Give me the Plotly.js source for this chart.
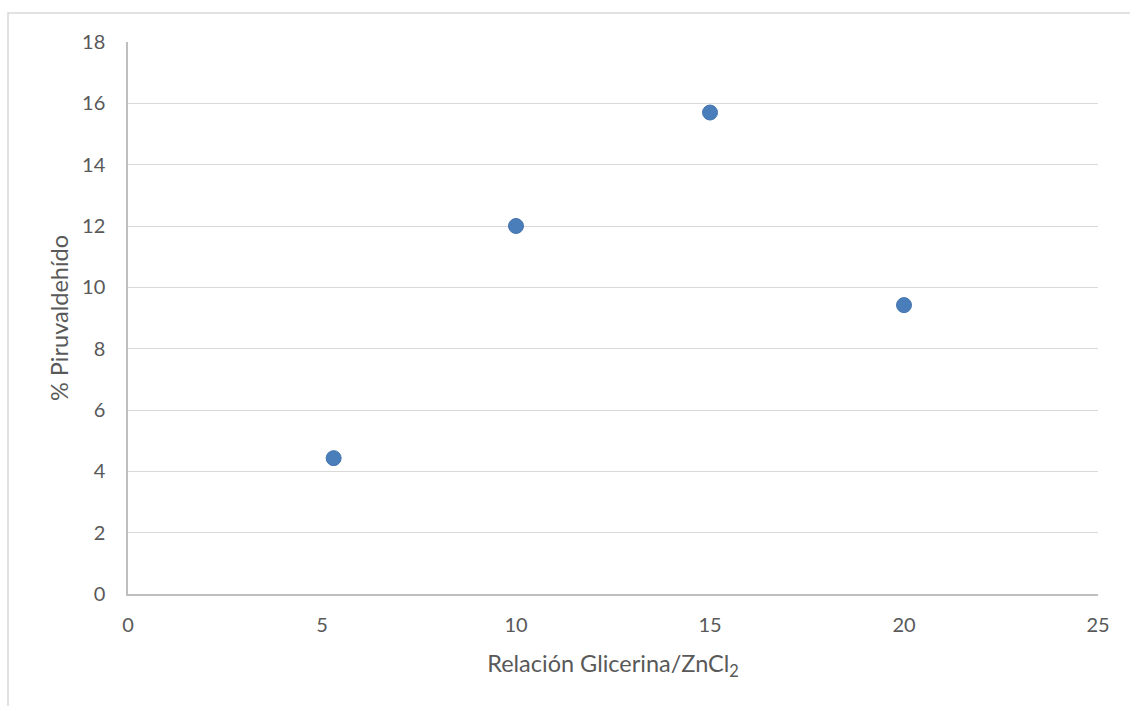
<!DOCTYPE html>
<html>
<head>
<meta charset="utf-8">
<script src="https://cdn.plot.ly/plotly-3.0.1.min.js"></script>
<style>html,body{margin:0;padding:0;background:#fff;}#chart{width:1130px;height:706px;}</style>
</head>
<body>
<div id="chart"></div>
<script>
const ratio = [5.3, 10, 15, 20];
const piruvaldehido = [4.43, 12.0, 15.7, 9.42];
const xTitle = "Relación Glicerina/ZnCl<sub>2</sub>";
const yTitle = "% Piruvaldehído";

const FONT = "Lato, 'Open Sans', sans-serif";
const L = 128, R = 32, T = 42, B = 112, W = 1130, H = 706;
const pw = W - L - R, ph = H - T - B;

Plotly.newPlot("chart", [{
  x: ratio, y: piruvaldehido, type: "scatter", mode: "markers",
  marker: {color: "#4a7ebb", size: 15, line: {color: "#4574b0", width: 1}},
  hoverinfo: "x+y"
}], {
  width: W, height: H,
  margin: {l: L, r: R, t: T, b: B, pad: 0},
  paper_bgcolor: "#fff", plot_bgcolor: "#fff",
  font: {family: FONT, size: 20, color: "#595959"},
  showlegend: false,
  xaxis: {
    range: [0, 25], dtick: 5, tick0: 0, showgrid: false, zeroline: false,
    showline: true, linecolor: "#bfbfbf", linewidth: 1.5,
    ticks: "", ticklabelstandoff: 12,
    tickfont: {family: FONT, size: 20, color: "#595959"},
    title: {text: xTitle, font: {family: FONT, size: 23.5, color: "#595959"}, standoff: 21}
  },
  yaxis: {
    range: [0, 18], dtick: 2, tick0: 0, showgrid: true, gridcolor: "#d9d9d9", gridwidth: 1.3,
    zeroline: false, showline: true, linecolor: "#bfbfbf", linewidth: 1.5,
    ticks: "", ticklabelstandoff: 17,
    tickfont: {family: FONT, size: 20, color: "#595959"},
    title: {text: yTitle, font: {family: FONT, size: 23.5, color: "#595959"}, standoff: 7}
  },
  shapes: [{
    type: "rect", xref: "paper", yref: "paper", layer: "below",
    x0: (8 - L) / pw, x1: (W + 20 - L) / pw,
    y0: (H - B - (H + 20)) / ph, y1: (H - B - 13) / ph,
    line: {color: "#d9d9d9", width: 1.5}
  }]
}, {displayModeBar: false, staticPlot: false});
</script>
</body>
</html>
